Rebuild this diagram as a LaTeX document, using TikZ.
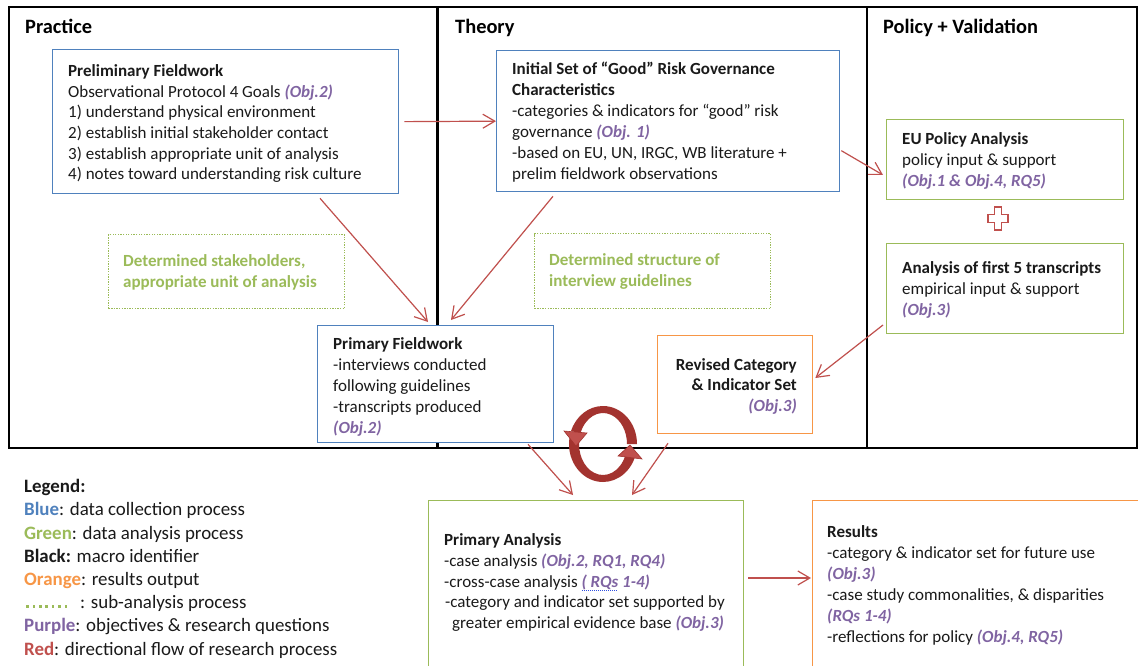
\documentclass[tikz,border=0pt]{standalone}
\usepackage{fontspec}
\setmainfont{Carlito}
\usetikzlibrary{arrows.meta}

\definecolor{oblue}{HTML}{4F81BD}
\definecolor{ogreen}{HTML}{9BBB59}
\definecolor{oorange}{HTML}{F79646}
\definecolor{opurple}{HTML}{8064A2}
\definecolor{ored}{HTML}{C0504D}
\definecolor{ringred}{HTML}{A3332F}
\definecolor{spellblue}{HTML}{3050E0}
\definecolor{inktext}{HTML}{1A1A1A}

% objective / research-question tags
\newcommand\ob[1]{\textcolor{opurple}{\textbf{\textit{#1}}}}
% dotted spelling mark under a word
\newcommand\spellmark[1]{\setbox0=\hbox{#1}\rlap{\textcolor{spellblue}{\leaders\hbox to 2pt{\hss\rule[-3.5pt]{1.1pt}{0.9pt}\hss}\hskip\wd0}}\box0\relax}
% green dotted sample line for the legend
\newcommand\dotsample{\textcolor{ogreen}{\leaders\hbox to 6.4pt{\hss\rule[1pt]{2.6pt}{2.6pt}\hss}\hskip 45pt}}
\newcommand\txtbody{\fontsize{17}{20.7}\selectfont}

\begin{document}
\begin{tikzpicture}[x=1pt,y=-1pt,
  boxbase/.style={draw, line width=1.3pt, fill=white, anchor=north west, inner sep=0pt},
  bluebox/.style={boxbase, draw=oblue},
  greenbox/.style={boxbase, draw=ogreen},
  orangebox/.style={boxbase, draw=oorange},
  subbox/.style={boxbase, draw=ogreen, line width=1.3pt, dash pattern=on 1.3pt off 1.3pt},
  txt/.style={anchor=base west, inner sep=0pt, font=\txtbody, text=inktext},
  title/.style={anchor=base west, inner sep=0pt, font=\bfseries\fontsize{20.4}{24}\selectfont},
  flow/.style={draw=ored, line width=1.2pt, -{Straight Barb[length=12pt,width=14pt]}}
]
\clip (0,0) rectangle (1138,666);
\fill[white] (0,0) rectangle (1138,666);

% column frame
\draw[line width=1.6pt] (9,7) rectangle (1137,448);
\draw[line width=3pt] (437,7) -- (437,448);
\draw[line width=1.8pt] (867,7) -- (867,448);

% column titles
\node[title] (practice) at (25,33.3) {Practice};
\node[title] (theory) at (455,33.3) {Theory};
\node[title] (policy) at (883,33.3) {Policy + Validation};

% boxes
\node[bluebox, minimum width=346pt, minimum height=144pt] (prelim) at (52,49) {};
\node[bluebox, minimum width=343pt, minimum height=141pt] (init) at (496,50) {};
\node[greenbox, minimum width=237pt, minimum height=80pt] (eu) at (886,119) {};
\node[greenbox, minimum width=237pt, minimum height=90pt] (five) at (886,243) {};
\node[subbox, minimum width=236pt, minimum height=74pt] (stake) at (108,234) {};
\node[subbox, minimum width=236pt, minimum height=75pt] (guide) at (534,233) {};
\node[bluebox, minimum width=236pt, minimum height=117pt] (pf) at (317,325) {};
\node[orangebox, minimum width=155pt, minimum height=98pt] (rev) at (657,335) {};
\node[greenbox, minimum width=315pt, minimum height=200pt] (pa) at (428,500) {};
\node[orangebox, minimum width=340pt, minimum height=200pt] (res) at (812,500) {};

% box texts
\node[txt] (prelimtxt) at (68,76.5) {\parbox[t]{400pt}{\txtbody
  \textbf{Preliminary Fieldwork}\\
  Observational Protocol 4 Goals \ob{(Obj.2)}\\
  1) understand physical environment\\
  2) establish initial stakeholder contact\\
  3) establish appropriate unit of analysis\\
  4) notes toward understanding risk culture}};

\node[txt] (inittxt) at (512,74.5) {\parbox[t]{400pt}{\fontsize{17}{21}\selectfont
  \textbf{Initial Set of “Good” Risk Governance}\\
  \textbf{Characteristics}\\
  -categories \& indicators for “good” risk\\
  governance \ob{(Obj. 1)}\\
  -based on EU, UN, IRGC, WB literature +\\
  prelim fieldwork observations}};

\node[txt] (eutxt) at (902,144.5) {\parbox[t]{300pt}{\fontsize{17}{21}\selectfont
  \textbf{EU Policy Analysis}\\
  policy input \& support\\
  \ob{(Obj.1 \& Obj.4, RQ5)}}};

\node[txt] (fivetxt) at (902,273) {\parbox[t]{300pt}{\fontsize{17}{21}\selectfont
  \textbf{Analysis of first 5 transcripts}\\
  empirical input \& support\\
  \ob{(Obj.3)}}};

\node[txt, text=ogreen] (staketxt) at (123,266.7) {\parbox[t]{300pt}{\fontsize{17}{21}\selectfont\bfseries
  Determined stakeholders,\\
  appropriate unit of analysis}};

\node[txt, text=ogreen] (guidetxt) at (549,265) {\parbox[t]{300pt}{\fontsize{17}{21}\selectfont\bfseries
  Determined structure of\\
  interview guidelines}};

\node[txt] (pftxt) at (333,349.3) {\parbox[t]{300pt}{\fontsize{17}{21}\selectfont
  \textbf{Primary Fieldwork}\\
  -interviews conducted\\
  following guidelines\\
  -transcripts produced\\
  \ob{(Obj.2)}}};

\node[txt, anchor=base east] (revtxt) at (797,370) {\parbox[t]{200pt}{\raggedleft\fontsize{17}{20.8}\selectfont
  \textbf{Revised Category}\\
  \textbf{\& Indicator Set}\\
  \ob{(Obj.3)}}};

\node[txt] (patxt) at (444,545.7) {\parbox[t]{400pt}{\fontsize{17}{20.7}\selectfont
  \textbf{Primary Analysis}\\
  -case analysis \ob{(Obj.2, RQ1, RQ4)}\\
  -cross-case analysis \ob{\spellmark{( RQs} 1-4)}\\
  \hspace*{1pt}-category and indicator set supported by\\
  \hspace*{8pt}greater empirical evidence base \ob{(Obj.3)}}};

\node[txt] (restxt) at (827,537.3) {\parbox[t]{400pt}{\fontsize{17}{21}\selectfont
  \textbf{Results}\\
  -category \& indicator set for future use\\
  \ob{(Obj.3)}\\
  -case study commonalities, \& disparities\\
  \ob{(RQs 1-4)}\\
  -reflections for policy \ob{(Obj.4, RQ5)}}};

% legend
\node[txt] (legend) at (24,492.7) {\parbox[t]{420pt}{\fontsize{18.9}{23.2}\selectfont
  \textbf{Legend:}\\
  \textcolor{oblue}{\textbf{Blue}}: data collection process\\
  \textcolor{ogreen}{\textbf{Green}}: data analysis process\\
  \textbf{Black:} macro identifier\\
  \textcolor{oorange}{\textbf{Orange}}: results output\\
  \dotsample\hspace{11pt}: sub-analysis process\\
  \textcolor{opurple}{\textbf{Purple}}: objectives \& research questions\\
  \textcolor{ored}{\textbf{Red}}: directional flow of research process}};

% plus sign between the policy boxes
\begin{scope}[shift={(998,218.5)}]
  \draw[ored, line width=1.3pt, fill=white]
    (-3.5,-11.5) -- (3.5,-11.5) -- (3.5,-4) -- (10,-4) -- (10,4) -- (3.5,4)
    -- (3.5,11.5) -- (-3.5,11.5) -- (-3.5,4) -- (-10,4) -- (-10,-4) -- (-3.5,-4) -- cycle;
\end{scope}

% flow connectors
\draw[flow] ([shift={(5,0)}]prelim.east) -- (init.west);
\draw[flow] ([shift={(268,4)}]prelim.south west) -- ([shift={(111,-3)}]pf.north west);
\draw[flow] ([shift={(57,4)}]init.south west) -- ([shift={(134,-5)}]pf.north west);
\draw[flow] ([shift={(1,29.5)}]init.east) -- ([shift={(-3,56)}]eu.north west);
\draw[flow] ([shift={(-3,82)}]five.north west) -- ([shift={(2,43)}]rev.north east);
\draw[flow] ([shift={(211,1)}]pf.south west) -- ([shift={(145,-5)}]pa.north west);
\draw[flow] ([shift={(11,9)}]rev.south west) -- ([shift={(204,-5)}]pa.north west);
\draw[flow] ([shift={(4,78)}]pa.north east) -- ([shift={(-1,78)}]res.north west);

% iteration ring
\begin{scope}[shift={(603,444)}]
  \fill[ringred] (190:34 and 38) arc[start angle=190, end angle=22, x radius=34, y radius=38]
     -- (22:24 and 31) arc[start angle=22, end angle=190, x radius=24, y radius=31] -- cycle;
  \fill[ringred] (0:34 and 38) arc[start angle=0, end angle=-160, x radius=34, y radius=38]
     -- (-160:24 and 31) arc[start angle=-160, end angle=0, x radius=24, y radius=31] -- cycle;
  \filldraw[fill=ored, draw=ringred, line width=0.6pt] (-39,-13) -- (-27,2) -- (-16,-11) -- cycle;
  \filldraw[fill=ored, draw=ringred, line width=0.6pt] (39,15) -- (27,1) -- (15,12) -- cycle;
\end{scope}
\end{tikzpicture}
\end{document}
